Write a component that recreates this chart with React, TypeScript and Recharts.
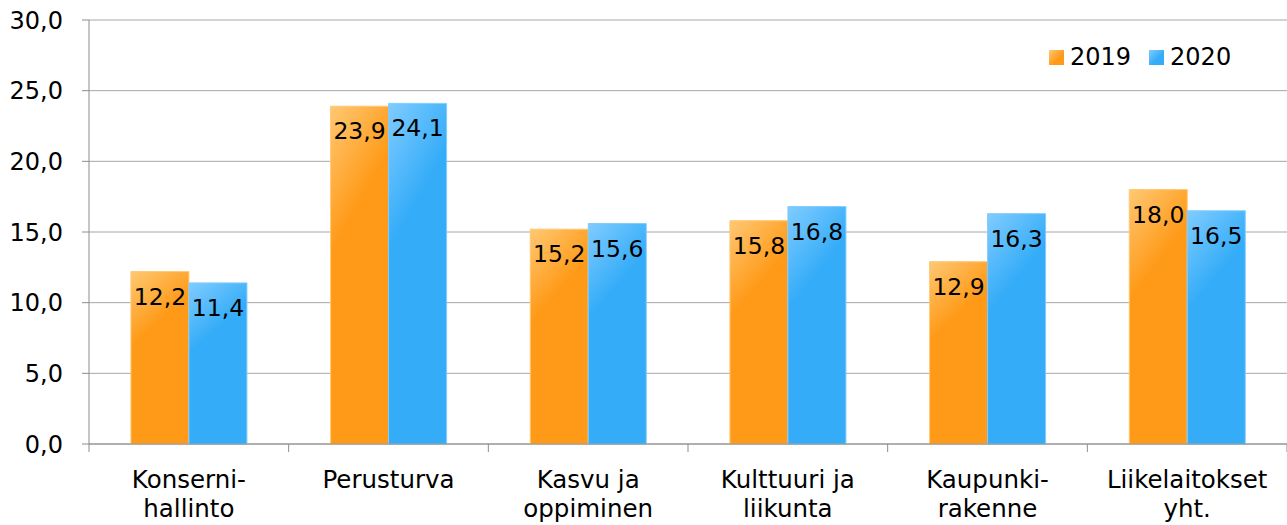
import React from "react";
import { BarChart, Bar, XAxis, YAxis, CartesianGrid, Legend, LabelList } from "recharts";

const categories = ["Konserni-\nhallinto", "Perusturva", "Kasvu ja\noppiminen", "Kulttuuri ja\nliikunta", "Kaupunki-\nrakenne", "Liikelaitokset\nyht."];
const values2019 = [12.2, 23.9, 15.2, 15.8, 12.9, 18.0];
const values2020 = [11.4, 24.1, 15.6, 16.8, 16.3, 16.5];
const yTicks = [0, 5, 10, 15, 20, 25, 30];
const seriesNames = ["2019", "2020"];

const data = categories.map((c, i) => ({ name: c, s2019: values2019[i], s2020: values2020[i] }));

const FONT = "'DejaVu Sans', Verdana, sans-serif";
const fmt = (v: number) => v.toFixed(1).replace(".", ",");

const ORANGE = "#FF9A18";
const ORANGE_L = "#FFC873";
const BLUE = "#34ACF8";
const BLUE_L = "#80CCFF";

const XTick = (props: any) => {
  const { x, y, payload, index } = props;
  const off = payload && payload.offset ? payload.offset : 99.8;
  const lines = String(payload.value).split("\n");
  return (
    <g>
      <line x1={x - off} x2={x - off} y1={y} y2={y + 8} stroke="#8c8c8c" strokeWidth={1} />
      {index === categories.length - 1 && (
        <line x1={x + off} x2={x + off} y1={y} y2={y + 8} stroke="#8c8c8c" strokeWidth={1} />
      )}
      <text x={x} y={y} textAnchor="middle" fontFamily={FONT} fontSize={24.5} fill="#000">
        {lines.map((l, i) => (
          <tspan key={i} x={x} y={y + 44 + i * 29}>{l}</tspan>
        ))}
      </text>
    </g>
  );
};

const makeLabel = () => (props: any) => {
  const { x, y, width, value } = props;
  return (
    <text x={x + width / 2} y={y + 33} textAnchor="middle" fontFamily={FONT} fontSize={23.5} fill="#000">
      {fmt(value)}
    </text>
  );
};

const LegendContent = () => (
  <div style={{ display: "flex", alignItems: "center", fontFamily: FONT, fontSize: 24, color: "#000", lineHeight: "24px" }}>
    {seriesNames.map((n, i) => (
      <div key={n} style={{ display: "flex", alignItems: "center", marginRight: i === 0 ? 18 : 0 }}>
        <span style={{ display: "inline-block", width: 15, height: 15, marginRight: 6, background: `linear-gradient(135deg, ${i === 0 ? ORANGE_L : BLUE_L} 0%, ${i === 0 ? ORANGE : BLUE} 60%)` }} />
        <span>{n}</span>
      </div>
    ))}
  </div>
);

export default function App() {
  return (
    <div style={{ position: "absolute", left: 0, top: 0, width: 1287, height: 525, background: "#fff" }}>
      <BarChart width={1287} height={525} data={data} margin={{ top: 20, right: 0, bottom: 0, left: 0 }} barCategoryGap="21%" barGap={0}>
        <defs>
          <linearGradient id="gOrange" x1="0" y1="0" x2="0.3" y2="1">
            <stop offset="0%" stopColor={ORANGE_L} />
            <stop offset="40%" stopColor={ORANGE} />
            <stop offset="100%" stopColor={ORANGE} />
          </linearGradient>
          <linearGradient id="gBlue" x1="0" y1="0" x2="0.3" y2="1">
            <stop offset="0%" stopColor={BLUE_L} />
            <stop offset="40%" stopColor={BLUE} />
            <stop offset="100%" stopColor={BLUE} />
          </linearGradient>
        </defs>
        <CartesianGrid vertical={false} stroke="#a6a6a6" strokeWidth={1} />
        <XAxis dataKey="name" height={81} interval={0} tickSize={0} tickMargin={0} tickLine={false} axisLine={{ stroke: "#8c8c8c" }} tick={<XTick />} />
        <YAxis width={89} domain={[0, 30]} ticks={yTicks} interval={0} tickSize={7} tickMargin={19} axisLine={{ stroke: "#8c8c8c" }} tickLine={{ stroke: "#8c8c8c" }} tickFormatter={fmt} tick={{ fontFamily: FONT, fontSize: 24, fill: "#000" }} />
        <Legend verticalAlign="middle" align="center" content={<LegendContent />} wrapperStyle={{ position: "absolute", top: 45, left: 1049, width: "auto" }} />
        <Bar dataKey="s2019" name="2019" fill="url(#gOrange)" stroke={ORANGE_L} strokeWidth={1} isAnimationActive={false}>
          <LabelList dataKey="s2019" content={makeLabel()} />
        </Bar>
        <Bar dataKey="s2020" name="2020" fill="url(#gBlue)" stroke={BLUE_L} strokeWidth={1} isAnimationActive={false}>
          <LabelList dataKey="s2020" content={makeLabel()} />
        </Bar>
      </BarChart>
    </div>
  );
}
